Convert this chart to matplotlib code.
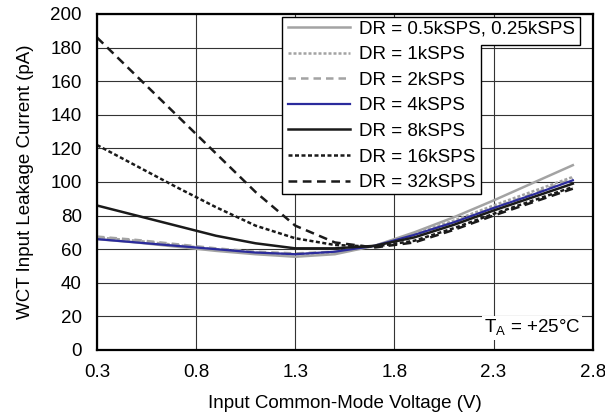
import matplotlib
matplotlib.use('Agg')
import matplotlib.pyplot as plt
from matplotlib.patches import Polygon

plt.rcParams['font.family'] = ['Liberation Sans', 'DejaVu Sans']
plt.rcParams['font.size'] = 13.5

# input common-mode voltage (V)
vcm = [0.3, 0.5, 0.7, 0.9, 1.1, 1.3, 1.5, 1.7, 1.9, 2.1, 2.3, 2.5, 2.7]

# WCT input leakage current (pA)
dr_05k = [66, 64, 61.5, 59, 57, 55.5, 57, 62, 70, 79, 89, 99.5, 110]
dr_1k = [67, 65, 62.5, 60, 58, 57, 58, 62, 69, 77, 86, 94.5, 103]
dr_2k = [67.5, 65.5, 63, 60.5, 58.5, 57.5, 58.5, 62, 68.5, 76, 84.5, 93, 102]
dr_4k = [66, 64, 62, 60, 58, 57, 58.5, 62, 68.5, 76, 84.5, 92.5, 101]
dr_8k = [86, 80, 74, 68, 63.5, 60.5, 60.5, 62, 67, 74.5, 83, 91, 99]
dr_16k = [122, 109.5, 97, 85, 74, 66.5, 62.5, 61.5, 65, 72.5, 81, 89, 97]
dr_32k = [186, 163, 140, 117, 94, 74, 64, 61, 64, 71.5, 80, 88, 96]

labels = ['DR = 0.5kSPS, 0.25kSPS', 'DR = 1kSPS', 'DR = 2kSPS', 'DR = 4kSPS',
          'DR = 8kSPS', 'DR = 16kSPS', 'DR = 32kSPS']

x_ticks = [0.3, 0.8, 1.3, 1.8, 2.3, 2.8]
y_ticks = list(range(0, 201, 20))

gray = '#a3a3a3'
fig = plt.figure(figsize=(6.05, 4.17), dpi=100)
ax = fig.add_axes([0.1603, 0.1607, 0.8193, 0.8058])

ax.plot(vcm, dr_05k, color=gray, lw=1.8, label=labels[0])
ax.plot(vcm, dr_1k, color=gray, lw=1.8, ls=(0, (1.2, 0.8)), label=labels[1])
ax.plot(vcm, dr_2k, color=gray, lw=1.8, ls=(0, (3, 2)), label=labels[2])
ax.plot(vcm, dr_4k, color='#2b2b9c', lw=1.6, label=labels[3])
ax.plot(vcm, dr_8k, color='#1a1a1a', lw=1.8, label=labels[4])
ax.plot(vcm, dr_16k, color='#1a1a1a', lw=1.8, ls=(0, (1.6, 1.0)), label=labels[5])
ax.plot(vcm, dr_32k, color='#1a1a1a', lw=1.8, ls=(0, (3.5, 2.2)), label=labels[6])

ax.set_xlim(0.3, 2.8)
ax.set_ylim(0, 200)
ax.set_xticks(x_ticks)
ax.set_xticklabels([f'{t:.1f}' for t in x_ticks])
ax.set_yticks(y_ticks)
ax.tick_params(axis='x', length=0, pad=10)
ax.tick_params(axis='y', length=0, pad=11)
ax.grid(True, color='#333333', lw=0.8)
ax.set_axisbelow(True)
for s in ax.spines.values():
    s.set_linewidth(1.6)

ax.set_xlabel('Input Common-Mode Voltage (V)', labelpad=10)
ax.set_ylabel('WCT Input Leakage Current (pA)', labelpad=12)

# legend frame: union of the wide first row and the narrower block
frame = Polygon([(0.3735, 0.464), (0.774, 0.464), (0.774, 0.907), (0.974, 0.907),
                 (0.974, 0.991), (0.3735, 0.991)], closed=True,
                transform=ax.transAxes, facecolor='white', edgecolor='black',
                lw=1.0, zorder=4)
ax.add_patch(frame)
ax.legend(loc='upper left', bbox_to_anchor=(0.3735, 0.997), frameon=False,
          handlelength=3.3, handletextpad=0.5, labelspacing=0.45,
          borderpad=0.3, borderaxespad=0, fontsize=13.5)

ax.text(0.975, 0.035, 'T$_\\mathregular{A}$ = +25°C', transform=ax.transAxes,
        ha='right', va='bottom', fontsize=13.5,
        bbox=dict(facecolor='white', edgecolor='none', pad=1.5), zorder=5)

fig.savefig('out.png', dpi=100)
